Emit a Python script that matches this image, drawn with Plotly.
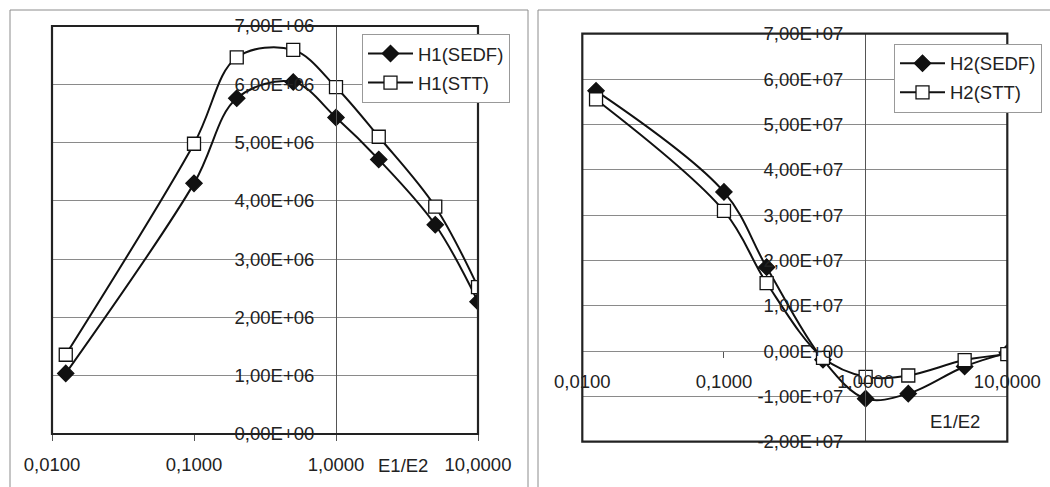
import plotly.graph_objects as go

# ---- data ----
ratio = [0.0125, 0.1, 0.2, 0.5, 1.0, 2.0, 5.0, 10.0]
h1_sedf = [1.04e6, 4.30e6, 5.76e6, 6.04e6, 5.43e6, 4.71e6, 3.59e6, 2.27e6]
h1_stt = [1.36e6, 4.98e6, 6.46e6, 6.59e6, 5.95e6, 5.10e6, 3.90e6, 2.52e6]
h2_sedf = [5.74e7, 3.51e7, 1.85e7, -0.19e7, -1.05e7, -0.94e7, -0.34e7, -0.04e7]
h2_stt = [5.55e7, 3.09e7, 1.50e7, -0.15e7, -0.57e7, -0.54e7, -0.20e7, -0.07e7]

x_tickvals = [0.01, 0.1, 1, 10]
x_ticktext = ["0,0100", "0,1000", "1,0000", "10,0000"]
y1_tickvals = [0, 1e6, 2e6, 3e6, 4e6, 5e6, 6e6, 7e6]
y1_ticktext = ["0,00E+00", "1,00E+06", "2,00E+06", "3,00E+06", "4,00E+06",
               "5,00E+06", "6,00E+06", "7,00E+06"]
y2_tickvals = [-2e7, -1e7, 0, 1e7, 2e7, 3e7, 4e7, 5e7, 6e7, 7e7]
y2_ticktext = ["-2,00E+07", "-1,00E+07", "0,00E+00", "1,00E+07", "2,00E+07",
               "3,00E+07", "4,00E+07", "5,00E+07", "6,00E+07", "7,00E+07"]
x_title = "E1/E2"

W, H = 1050, 487
FONT = dict(family="Liberation Sans, Arial, sans-serif", size=18.5, color="#222222")
GRID = "#8a8a8a"

fig = go.Figure()

def add(x, y, name, sym, xa, ya, legend, group):
    filled = sym == "diamond"
    fig.add_trace(go.Scatter(
        x=x, y=y, name=name, mode="lines+markers",
        line=dict(color="#111111", width=2, shape="spline", smoothing=1),
        marker=dict(symbol=sym, size=12.5 if filled else 13,
                    color="#111111" if filled else "white",
                    line=dict(color="#111111", width=1.3)),
        xaxis=xa, yaxis=ya, legend=legend, legendgroup=group))

add(ratio, h1_sedf, "H1(SEDF)", "diamond", "x", "y", "legend", "a")
add(ratio, h1_stt, "H1(STT)", "square", "x", "y", "legend", "b")
add(ratio, h2_sedf, "H2(SEDF)", "diamond", "x2", "y2", "legend2", "c")
add(ratio, h2_stt, "H2(STT)", "square", "x2", "y2", "legend2", "d")

# plot area geometry (pixels)
L = dict(x0=52, x1=478, top=26, bot=434)
R = dict(x0=582.3, x1=1007.3, top=33.7, bot=441.7)

def px_x(p):
    return p / W

def px_y(p):
    return 1 - p / H

xaxis_common = dict(type="log", range=[-2, 1], tickvals=x_tickvals, ticktext=x_ticktext,
                    showgrid=False, zeroline=False, ticks="outside", ticklen=6,
                    tickcolor="#555555", tickfont=FONT, showline=False,
                    ticklabelstandoff=8)
yaxis_common = dict(showgrid=True, gridcolor=GRID, gridwidth=1, zeroline=False,
                    ticks="", tickfont=FONT, showline=True, linecolor="#555555",
                    linewidth=1, ticklabelstandoff=18)

fig.update_layout(
    width=W, height=H, margin=dict(l=0, r=0, t=0, b=0, autoexpand=False),
    paper_bgcolor="white", plot_bgcolor="white", font=FONT,
    xaxis=dict(domain=[px_x(L["x0"]), px_x(L["x1"])], anchor="y", **xaxis_common),
    yaxis=dict(domain=[px_y(L["bot"]), px_y(L["top"])], range=[0, 7e6],
               tickvals=y1_tickvals, ticktext=y1_ticktext,
               anchor="free", position=px_x(336), **yaxis_common),
    xaxis2=dict(domain=[px_x(R["x0"]), px_x(R["x1"])], anchor="free",
                position=px_y(350.7), **xaxis_common),
    yaxis2=dict(domain=[px_y(R["bot"]), px_y(R["top"])], range=[-2e7, 7e7],
                tickvals=y2_tickvals, ticktext=y2_ticktext,
                anchor="free", position=px_x(865), **yaxis_common),
    legend=dict(x=px_x(362), y=px_y(34), xanchor="left", yanchor="top",
                bgcolor="white", bordercolor="#999999", borderwidth=1,
                font=FONT, traceorder="grouped", tracegroupgap=2, itemwidth=45),
    legend2=dict(x=px_x(894), y=px_y(43.7), xanchor="left", yanchor="top",
                 bgcolor="white", bordercolor="#999999", borderwidth=1,
                 font=FONT, traceorder="grouped", tracegroupgap=2, itemwidth=45),
    showlegend=True,
)

shapes = []
# plot-area frames
for (a, b, c, d) in ((L["x0"], L["x1"], L["top"], L["bot"]), (R["x0"], R["x1"], R["top"], R["bot"])):
    shapes.append(dict(type="rect", xref="paper", yref="paper",
                       x0=px_x(a), x1=px_x(b), y0=px_y(d), y1=px_y(c),
                       line=dict(color="#222222", width=2.2), layer="above"))
# outer chart boxes
shapes.append(dict(type="path", xref="paper", yref="paper",
                   path=f"M {px_x(10)},{px_y(490)} L {px_x(10)},{px_y(10)} L {px_x(528)},{px_y(10)} L {px_x(528)},{px_y(490)}",
                   line=dict(color="#8c8c8c", width=1)))
shapes.append(dict(type="path", xref="paper", yref="paper",
                   path=f"M {px_x(538)},{px_y(490)} L {px_x(538)},{px_y(10)} L {px_x(1055)},{px_y(10)}",
                   line=dict(color="#8c8c8c", width=1)))
fig.update_layout(shapes=shapes)

fig.add_annotation(text=x_title, xref="paper", yref="paper", x=px_x(403), y=px_y(465),
                   showarrow=False, font=FONT, xanchor="center", yanchor="middle")
fig.add_annotation(text=x_title, xref="paper", yref="paper", x=px_x(955), y=px_y(421.7),
                   showarrow=False, font=FONT, xanchor="center", yanchor="middle")

fig.write_html("out.html", config={"displayModeBar": False},
               post_script="document.body.style.margin='0';document.body.style.overflow='hidden';")
